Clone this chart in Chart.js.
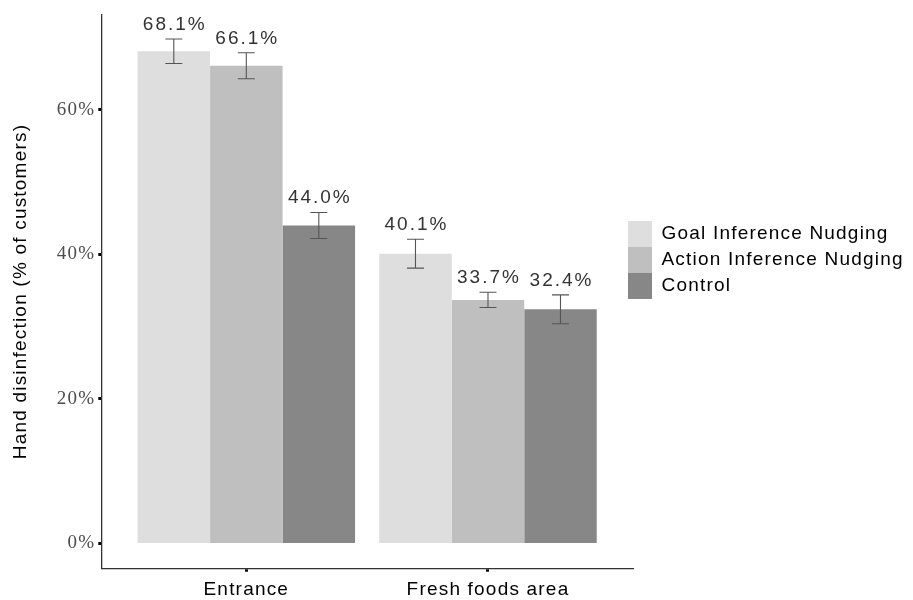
<!DOCTYPE html>
<html>
<head>
<meta charset="utf-8">
<script src="https://cdn.jsdelivr.net/npm/chart.js@4.4.1/dist/chart.umd.min.js"></script>
<style>
  html, body { margin: 0; padding: 0; background: #ffffff; }
  #wrap { width: 913px; height: 600px; }
</style>
</head>
<body>
<div id="wrap"><canvas id="chart" width="913" height="600"></canvas></div>
<script>
// Hand disinfection rates by location and nudging condition
const categories = ['Entrance', 'Fresh foods area'];
const seriesNames = ['Goal Inference Nudging', 'Action Inference Nudging', 'Control'];

const goalValues = [68.1, 40.1];
const actionValues = [66.1, 33.7];
const controlValues = [44.0, 32.4];

// half-width of the error bars, in percentage points
const goalErrors = [1.7, 2.0];
const actionErrors = [1.8, 1.05];
const controlErrors = [1.8, 2.0];

const yTickValues = [0, 20, 40, 60];

const seriesColors = ['#dedede', '#bebfbe', '#878787'];

const seriesValues = [goalValues, actionValues, controlValues];
const seriesErrors = [goalErrors, actionErrors, controlErrors];

const SANS = '"Liberation Sans", Arial, Helvetica, sans-serif';
const SERIF = '"Liberation Serif", "Times New Roman", serif';
const TEXT_SPACING = '1.2px';

// Category positions on a numeric axis (1, 2) with margin on both sides
const datasets = seriesNames.map((name, i) => ({
  label: name,
  data: seriesValues[i].map((v, j) => ({ x: j + 1, y: v })),
  errors: seriesErrors[i],
  backgroundColor: seriesColors[i],
  borderWidth: 0,
  barPercentage: 1.0,
  categoryPercentage: 0.9
}));

// Slightly wider glyph spacing for all text on the canvas
const textSpacing = {
  id: 'textSpacing',
  beforeUpdate(chart) { chart.ctx.letterSpacing = TEXT_SPACING; },
  beforeDraw(chart) { chart.ctx.letterSpacing = TEXT_SPACING; }
};

// Legend: fixed width beside the plot, items stacked without gaps
const legendPlacement = {
  id: 'legendPlacement',
  beforeLayout(chart) {
    const lg = chart.legend;
    if (lg && !lg.__fixedWidth) {
      const fit = lg.fit;
      lg.fit = function () { fit.call(this); this.width = 280; };
      lg.__fixedWidth = true;
    }
  },
  afterLayout(chart) {
    const lg = chart.legend;
    if (!lg) return;
    const w = lg.width;
    lg.left = 628;
    lg.right = 628 + w;
    lg.top = 0;
    lg.bottom = 520;
    lg.height = 520;
  }
};

// Error bars and value labels above each bar
const errorBarsAndLabels = {
  id: 'errorBarsAndLabels',
  afterDatasetsDraw(chart) {
    const ctx = chart.ctx;
    const y = chart.scales.y;
    chart.data.datasets.forEach((ds, i) => {
      const meta = chart.getDatasetMeta(i);
      meta.data.forEach((bar, j) => {
        const v = ds.data[j].y;
        const e = ds.errors[j];
        const x = bar.x;
        const top = y.getPixelForValue(v + e);
        const bottom = y.getPixelForValue(v - e);
        ctx.save();
        ctx.strokeStyle = '#555555';
        ctx.lineWidth = 1.1;
        ctx.beginPath();
        ctx.moveTo(x, top); ctx.lineTo(x, bottom);
        ctx.moveTo(x - 8.5, top); ctx.lineTo(x + 8.5, top);
        ctx.moveTo(x - 8.5, bottom); ctx.lineTo(x + 8.5, bottom);
        ctx.stroke();
        ctx.letterSpacing = '2px';
        ctx.fillStyle = '#333333';
        ctx.font = '19px ' + SANS;
        ctx.textAlign = 'center';
        ctx.textBaseline = 'alphabetic';
        ctx.fillText(v.toFixed(1) + '%', x + 1, top - 9);
        ctx.restore();
      });
    });
  }
};

new Chart(document.getElementById('chart'), {
  type: 'bar',
  data: { datasets },
  plugins: [textSpacing, legendPlacement, errorBarsAndLabels],
  options: {
    responsive: false,
    animation: false,
    devicePixelRatio: 1,
    layout: { padding: { top: 12.7, left: 0, right: 0, bottom: 0 } },
    plugins: {
      tooltip: { enabled: false },
      legend: {
        display: true,
        position: 'right',
        align: 'center',
        labels: {
          boxWidth: 24,
          boxHeight: 26,
          padding: 0,
          color: '#000000',
          font: { family: SANS, size: 19 }
        }
      }
    },
    scales: {
      x: {
        type: 'linear',
        min: 0.4,
        max: 2.6,
        offset: false,
        afterBuildTicks(s) { s.ticks = categories.map((c, i) => ({ value: i + 1 })); },
        afterFit(s) { s.height = 31.3; },
        ticks: {
          padding: 7,
          color: '#000000',
          font: { family: SANS, size: 19 },
          maxRotation: 0,
          autoSkip: false,
          callback: (v) => categories[Math.round(v) - 1] || ''
        },
        grid: {
          display: true,
          offset: false,
          drawOnChartArea: false,
          drawTicks: true,
          tickLength: 3,
          tickWidth: 3,
          tickColor: '#000000'
        },
        border: { display: true, color: '#333333', width: 1.3 }
      },
      y: {
        type: 'linear',
        min: -3.49,
        max: 73.2,
        afterBuildTicks(s) { s.ticks = yTickValues.map(v => ({ value: v })); },
        afterFit(s) { s.width = 101.3; },
        ticks: {
          padding: 3,
          color: '#4d4d4d',
          font: { family: SERIF, size: 19 },
          callback: (v) => v + '%'
        },
        grid: {
          display: true,
          offset: false,
          drawOnChartArea: false,
          drawTicks: true,
          tickLength: 3,
          tickWidth: 3,
          tickColor: '#000000'
        },
        border: { display: true, color: '#333333', width: 1.3 },
        title: {
          display: true,
          text: 'Hand disinfection (% of customers)',
          color: '#000000',
          font: { family: SANS, size: 19 },
          padding: { top: 9, bottom: 0 }
        }
      }
    }
  }
});
</script>
</body>
</html>
